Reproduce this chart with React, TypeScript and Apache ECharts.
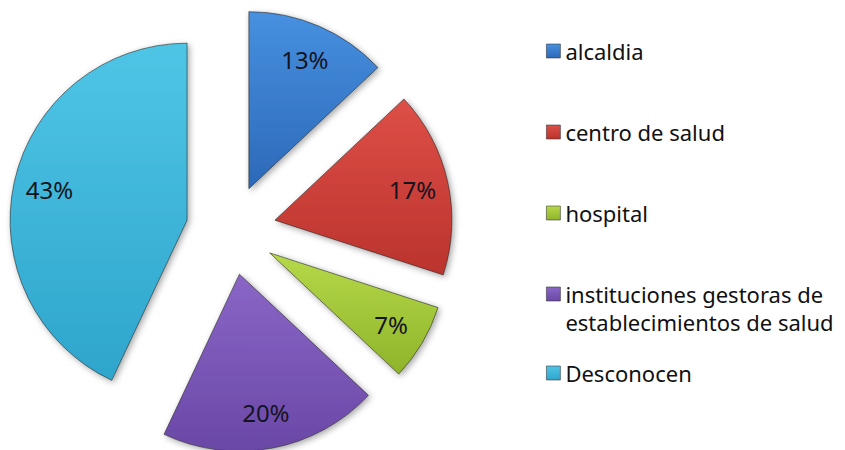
import React, { useEffect, useRef } from "react";
import * as echarts from "echarts";

const categories = [
  "alcaldia",
  "centro de salud",
  "hospital",
  "instituciones gestoras de establecimientos de salud",
  "Desconocen",
];
const values = [13, 17, 7, 20, 43];
const legendTexts = [
  "alcaldia",
  "centro de salud",
  "hospital",
  "\ninstituciones gestoras de\nestablecimientos de salud",
  "Desconocen",
];
const colorsLight = ["#4790e0", "#dd4f47", "#b6d949", "#8a66c6", "#4fc5e6"];
const colorsDark = ["#2c69b8", "#bb332d", "#8fb42a", "#6a48a6", "#2ea5cc"];

const legendIconCenters = [51, 132, 213, 294, 373];
const FONT = "'Noto Sans', sans-serif";
const LEGEND_LH = 28;

export default function App() {
  const ref = useRef<HTMLDivElement>(null);
  useEffect(() => {
    if (!ref.current) return;
    const chart = echarts.init(ref.current, null, { renderer: "svg" });
    const grad = (i: number) =>
      new echarts.graphic.LinearGradient(0, 0, 0, 1, [
        { offset: 0, color: colorsLight[i] },
        { offset: 1, color: colorsDark[i] },
      ]);
    const mainData = categories.map((name, i) => ({
      name,
      value: values[i],
      selected: true,
      itemStyle: { color: grad(i) },
    }));
    const labelData = categories.map((name, i) => ({
      name,
      value: values[i],
      selected: true,
    }));
    const legends = categories.map((name, i) => {
      const lines = legendTexts[i].split("\n").length;
      return {
        data: [name],
        orient: "vertical",
        left: 546,
        top: legendIconCenters[i] - (lines * LEGEND_LH) / 2,
        padding: 0,
        itemWidth: 14,
        itemHeight: 14,
        icon: "rect",
        selectedMode: false,
        formatter: () => legendTexts[i],
        itemStyle: { borderColor: "rgba(50,50,50,0.7)", borderWidth: 0.8 },
        textStyle: {
          fontFamily: FONT,
          fontSize: 22,
          color: "#111111",
          lineHeight: LEGEND_LH,
        },
      };
    });
    chart.setOption({
      animation: false,
      backgroundColor: "#ffffff",
      legend: legends,
      series: [
        {
          type: "pie",
          center: [231, 230],
          radius: [0, 177],
          startAngle: 90,
          clockwise: true,
          selectedMode: "multiple",
          selectedOffset: 45,
          avoidLabelOverlap: false,
          label: { show: false },
          labelLine: { show: false },
          emphasis: { disabled: true },
          itemStyle: {
            borderColor: "rgba(40,40,40,0.6)",
            borderWidth: 1,
            shadowBlur: 6,
            shadowColor: "rgba(0,0,0,0.35)",
            shadowOffsetX: 2,
            shadowOffsetY: 2,
          },
          data: mainData,
        },
        {
          type: "pie",
          center: [231, 230],
          radius: [99, 177],
          startAngle: 90,
          clockwise: true,
          selectedMode: "multiple",
          selectedOffset: 45,
          silent: true,
          avoidLabelOverlap: false,
          itemStyle: { color: "rgba(0,0,0,0)", borderWidth: 0 },
          emphasis: { disabled: true },
          labelLine: { show: false },
          label: {
            show: true,
            position: "inside",
            formatter: "{c}%",
            fontFamily: FONT,
            fontSize: 24,
            color: "#141420",
          },
          data: labelData,
        },
      ],
    });
    return () => chart.dispose();
  }, []);
  return (
    <div
      ref={ref}
      style={{ position: "fixed", left: 0, top: 0, width: 845, height: 450, background: "#fff" }}
    />
  );
}
